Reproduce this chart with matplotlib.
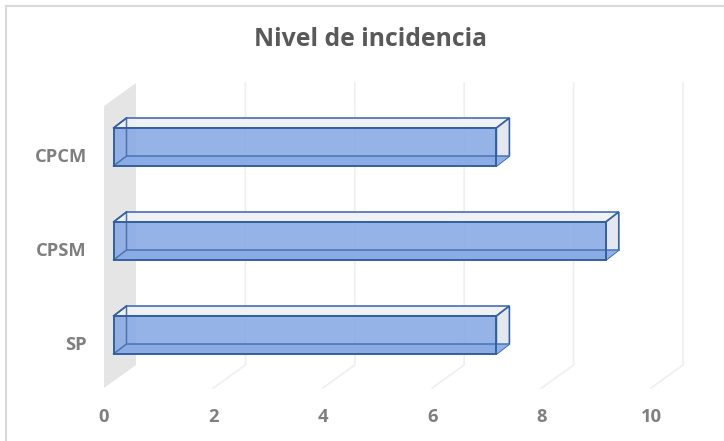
import matplotlib
matplotlib.use("Agg")
import matplotlib.pyplot as plt
from matplotlib.patches import Polygon
from matplotlib.transforms import ScaledTranslation

categories = ["SP", "CPSM", "CPCM"]
values = [7, 9, 7]
xticks = [0, 2, 4, 6, 8, 10]
title = "Nivel de incidencia"

W, H = 724, 441
X0, X1, Y0, Y1 = 104, 651, 388, 106   # plot front plane, pixels
PXU = (X1 - X0) / 10
PYU = 94
DX, DY = 32, 23      # floor depth in pixels
BAR_H = 38 / PYU
GAP_X, BAR_DX, BAR_DY = 9.5, 13, 10

plt.rcParams["font.family"] = ["Open Sans", "DejaVu Sans"]
fig = plt.figure(figsize=(W / 100, H / 100), dpi=100, facecolor="white")
ax = fig.add_axes([X0 / W, 1 - Y0 / H, (X1 - X0) / W, (Y0 - Y1) / H])
ax.set_xlim(0, 10)
ax.set_ylim(-(Y0 - 335) / PYU, (335 - Y1) / PYU)
ymin, ymax = ax.get_ylim()
ax.patch.set_alpha(0)
for s in ax.spines.values():
    s.set_visible(False)

def off(x, y, dx_px, dy_px):
    return (x + dx_px / PXU, y + dy_px / PYU)

# back wall
ax.add_patch(Polygon([off(0, ymin, 0, 0), off(0, ymin, DX, DY), off(0, ymax, DX, DY), off(0, ymax, 0, 0)],
                     closed=True, fc="#e5e5e5", ec="none", clip_on=False, zorder=1))
# gridlines
for t in xticks[1:]:
    pts = [off(t, ymin, 0, 0), off(t, ymin, DX, DY), off(t, ymax, DX, DY)]
    ax.plot(*zip(*pts), color="#efefef", lw=1.2, clip_on=False, zorder=1)

edge = "#34609f"
for i, (c, v) in enumerate(zip(categories, values)):
    xa = GAP_X / PXU
    xb = xa + v
    yb, yt = i - BAR_H / 2, i + BAR_H / 2
    # hidden back/inner faces
    ax.add_patch(Polygon([(xa, yt), off(xa, yt, BAR_DX, BAR_DY), off(xb, yt, BAR_DX, BAR_DY), (xb, yt)],
                         closed=True, fc="#f0f1f6", ec="#3d68ad", lw=1.2, alpha=0.95, clip_on=False, zorder=3))
    ax.add_patch(Polygon([(xb, yb), off(xb, yb, BAR_DX, BAR_DY), off(xb, yt, BAR_DX, BAR_DY), (xb, yt)],
                         closed=True, fc="#e4e7ef", ec=edge, lw=1.2, clip_on=False, zorder=3))
    ax.add_patch(Polygon([off(xa, yb, BAR_DX, BAR_DY), off(xb, yb, BAR_DX, BAR_DY),
                          (xb, yb), (xa, yb)],
                         closed=True, fc="#8fb0e6", ec="none", clip_on=False, zorder=3))
    # front face
    ax.add_patch(Polygon([(xa, yb), (xb, yb), (xb, yt), (xa, yt)],
                         closed=True, fc="#8aabe4", ec="none", alpha=0.9, clip_on=False, zorder=4))
    # edges
    ax.plot([xa, xb, xb, xa, xa], [yb, yb, yt, yt, yb], color=edge, lw=1.4, clip_on=False, zorder=6, solid_joinstyle="miter")
    p = [off(xa, yb, BAR_DX, BAR_DY), off(xb, yb, BAR_DX, BAR_DY)]
    ax.plot(*zip(*p), color="#4a73b5", lw=1.1, clip_on=False, zorder=5)
    p = [(xa, yb), off(xa, yb, BAR_DX, BAR_DY), off(xa, yt, BAR_DX, BAR_DY)]
    ax.plot(*zip(*p), color="#4a73b5", lw=1.1, clip_on=False, zorder=5)
    p = [(xa, yt), off(xa, yt, BAR_DX, BAR_DY)]
    ax.plot(*zip(*p), color=edge, lw=1.1, clip_on=False, zorder=5)

ax.set_xticks(xticks)
ax.set_yticks(range(len(categories)), categories)
ax.tick_params(length=0, colors="#7f7f7f", labelsize=13.2)
ax.tick_params(axis="x", pad=14.5)
ax.tick_params(axis="y", pad=12.5)
shift = ScaledTranslation(0, -8 / 100, fig.dpi_scale_trans)
for lab in ax.get_yticklabels():
    lab.set_fontweight("bold")
    lab.set_transform(lab.get_transform() + shift)
for lab in ax.get_xticklabels():
    lab.set_fontweight("bold")

fig.text(370 / W, 1 - 39 / H, title, ha="center", va="center", fontsize=17.8, fontweight="bold", color="#595959")

# chart frame
fig.add_artist(plt.Line2D([6 / W, 6 / W], [0, 1 - 6 / H], color="#d9d9d9", lw=1.5))
fig.add_artist(plt.Line2D([6 / W, 1], [1 - 6 / H, 1 - 6 / H], color="#d9d9d9", lw=1.5))

fig.savefig("out.png", dpi=100)
